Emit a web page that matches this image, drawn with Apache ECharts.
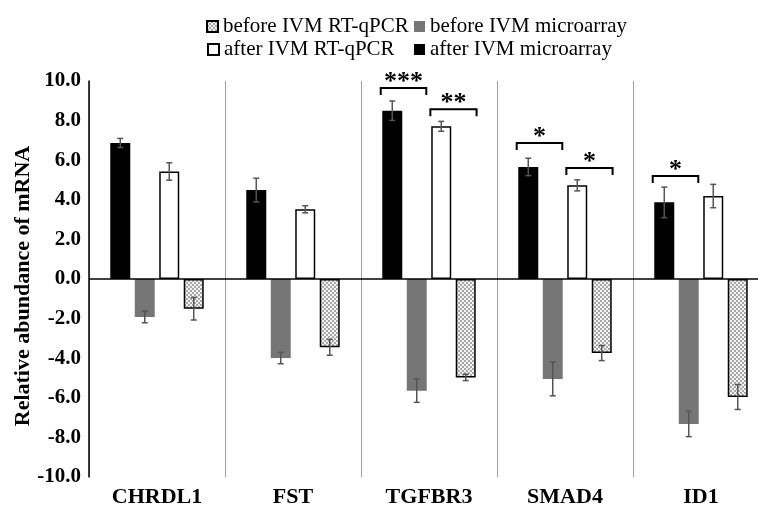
<!DOCTYPE html>
<html>
<head>
<meta charset="utf-8">
<script src="https://cdn.jsdelivr.net/npm/echarts@6/dist/echarts.min.js"></script>
<style>
html,body{margin:0;padding:0;background:#fff;}
#chart{width:758px;height:511px;}
</style>
</head>
<body>
<div id="chart"></div>
<script>
const categories = ['CHRDL1', 'FST', 'TGFBR3', 'SMAD4', 'ID1'];
const seriesNames = ['after IVM microarray', 'before IVM microarray', 'after IVM RT-qPCR', 'before IVM RT-qPCR'];
const afterMicroarray = [6.87, 4.49, 8.50, 5.66, 3.87];
const afterMicroarrayErr = [0.23, 0.60, 0.49, 0.44, 0.77];
const beforeMicroarray = [-1.92, -3.99, -5.64, -5.05, -7.32];
const beforeMicroarrayErr = [0.29, 0.29, 0.59, 0.85, 0.64];
const afterRT = [5.43, 3.52, 7.71, 4.73, 4.19];
const afterRTErr = [0.44, 0.18, 0.25, 0.28, 0.59];
const beforeRT = [-1.50, -3.45, -4.97, -3.74, -5.96];
const beforeRTErr = [0.57, 0.40, 0.16, 0.38, 0.63];
const yMin = -10, yMax = 10, yInterval = 2;
// significance brackets: category index, pair (0 = microarray, 1 = RT-qPCR), bracket height, label
const sigCategory = [2, 2, 3, 3, 4];
const sigPair = [0, 1, 0, 1, 0];
const sigHeight = [9.65, 8.57, 6.87, 5.61, 5.20];
const sigLabel = ['***', '**', '*', '*', '*'];

const FONT = '"Liberation Serif", "Times New Roman", serif';
const BW = 0.147, BG = 0.225;

function makePattern() {
  const c = document.createElement('canvas');
  c.width = 4; c.height = 4;
  const ctx = c.getContext('2d');
  ctx.fillStyle = '#f2f2f2'; ctx.fillRect(0, 0, 4, 4);
  ctx.fillStyle = '#a8a8a8';
  ctx.fillRect(0, 0, 2, 2); ctx.fillRect(2, 2, 2, 2);
  return c;
}
const pattern = { image: makePattern(), repeat: 'repeat' };

const values = [afterMicroarray, beforeMicroarray, afterRT, beforeRT];
const errors = [afterMicroarrayErr, beforeMicroarrayErr, afterRTErr, beforeRTErr];
const styles = [
  { color: '#000000' },
  { color: '#767676' },
  { color: '#ffffff', borderColor: '#000', borderWidth: 1.5 },
  { color: pattern, borderColor: '#000', borderWidth: 1.5 }
];

const errData = [];
values.forEach((arr, s) => arr.forEach((v, i) => errData.push([i, v, errors[s][i], s])));
const sigData = sigCategory.map((c, k) => [c, sigHeight[k], sigPair[k], k]);

const barSeries = seriesNames.map((name, s) => ({
  name: name,
  type: 'bar',
  data: values[s],
  barWidth: (BW * 100) + '%',
  barGap: (BG * 100) + '%',
  itemStyle: styles[s],
  markLine: s === 0 ? {
    silent: true, symbol: 'none', label: { show: false },
    lineStyle: { color: '#000', width: 1.5, type: 'solid' },
    data: [{ yAxis: 0 }]
  } : undefined
}));

const chart = echarts.init(document.getElementById('chart'));
const legendBase = {
  itemWidth: 11, itemHeight: 11,
  icon: 'rect',
  textStyle: { fontFamily: FONT, fontSize: 21, color: '#000' },
  selectedMode: false
};
chart.setOption({
  animation: false,
  legend: [
    Object.assign({ data: ['before IVM RT-qPCR'], left: 201, top: 11 }, legendBase),
    Object.assign({ data: ['before IVM microarray'], left: 409, top: 11 }, legendBase),
    Object.assign({ data: ['after IVM RT-qPCR'], left: 202, top: 34 }, legendBase),
    Object.assign({ data: ['after IVM microarray'], left: 409, top: 34 }, legendBase)
  ],
  grid: { left: 89, right: -11, top: 81, bottom: 34, containLabel: false, outerBoundsMode: 'none' },
  xAxis: {
    type: 'category',
    data: categories,
    axisLine: { show: false, onZero: false },
    axisTick: { show: false },
    axisLabel: { interval: 0, margin: 9, fontFamily: FONT, fontSize: 22, fontWeight: 'bold', color: '#000' },
    splitLine: { show: true, interval: 0, lineStyle: { color: '#a0a0a0', width: 1 } }
  },
  yAxis: {
    type: 'value',
    min: yMin, max: yMax, interval: yInterval,
    name: 'Relative abundance of mRNA',
    nameLocation: 'middle',
    nameGap: 55,
    nameMoveOverlap: false,
    nameTextStyle: { fontFamily: FONT, fontSize: 22, fontWeight: 'bold', color: '#000', padding: [0, 14, 0, 0] },
    axisLine: { show: true, lineStyle: { color: '#000', width: 1.5 } },
    axisTick: { show: false },
    splitLine: { show: false },
    axisLabel: { margin: 8, fontFamily: FONT, fontSize: 21, fontWeight: 'bold', color: '#000',
      formatter: v => v.toFixed(1) }
  },
  series: barSeries.concat([
    {
      type: 'custom',
      name: 'errors',
      silent: true,
      z: 5,
      encode: { x: 0, y: 1 },
      data: errData,
      renderItem: function (params, api) {
        const ci = api.value(0), v = api.value(1), e = api.value(2), s = api.value(3);
        const band = api.size([1, 0])[0];
        const c = api.coord([ci, v]);
        const x = c[0] + (s - 1.5) * band * BW * (1 + BG);
        const y1 = api.coord([ci, v + e])[1];
        const y2 = api.coord([ci, v - e])[1];
        const st = { stroke: '#555', lineWidth: 1.5 };
        return { type: 'group', children: [
          { type: 'line', shape: { x1: x, y1: y1, x2: x, y2: y2 }, style: st },
          { type: 'line', shape: { x1: x - 3, y1: y1, x2: x + 3, y2: y1 }, style: st },
          { type: 'line', shape: { x1: x - 3, y1: y2, x2: x + 3, y2: y2 }, style: st }
        ]};
      }
    },
    {
      type: 'custom',
      name: 'significance',
      silent: true,
      z: 6,
      encode: { x: 0, y: 1 },
      data: sigData,
      renderItem: function (params, api) {
        const ci = api.value(0), h = api.value(1), pair = api.value(2), k = api.value(3);
        const band = api.size([1, 0])[0];
        const c = api.coord([ci, h]);
        const f1 = pair === 0 ? -0.355 : 0.01;
        const f2 = pair === 0 ? -0.02 : 0.35;
        const x1 = c[0] + f1 * band, x2 = c[0] + f2 * band;
        const y = c[1];
        return { type: 'group', children: [
          { type: 'polyline', shape: { points: [[x1, y + 7], [x1, y], [x2, y], [x2, y + 7]] },
            style: { stroke: '#000', lineWidth: 2, fill: null } },
          { type: 'text', x: (x1 + x2) / 2, y: y + 7,
            style: { text: sigLabel[k], fontFamily: FONT, fontSize: 26, fontWeight: 'bold',
              fill: '#000', align: 'center', verticalAlign: 'bottom' } }
        ]};
      }
    }
  ])
});
</script>
</body>
</html>
